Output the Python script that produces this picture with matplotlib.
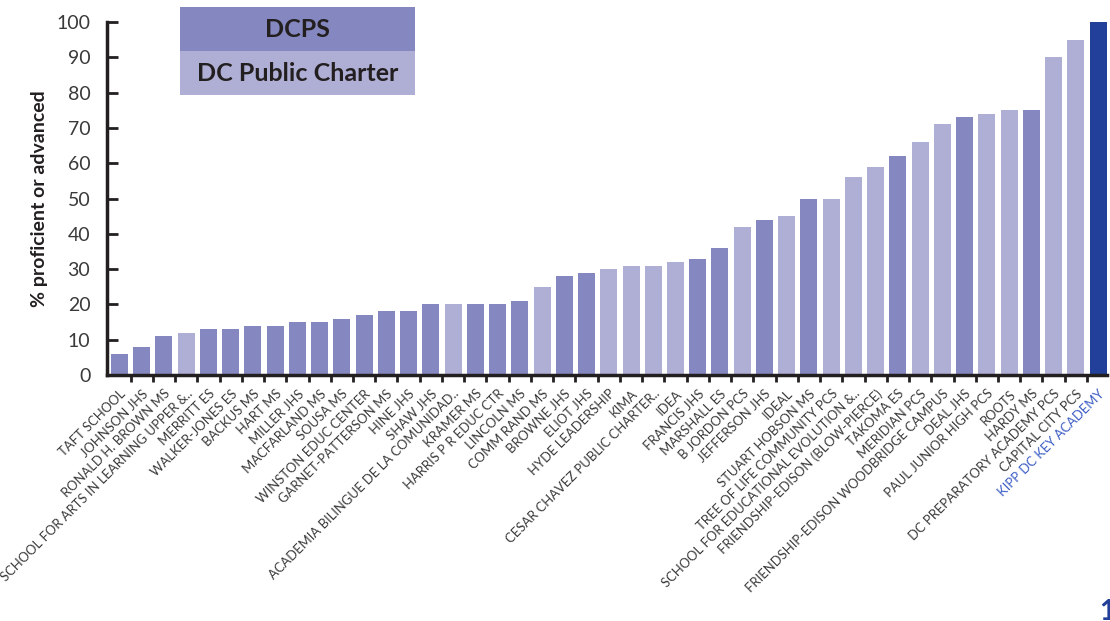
import matplotlib
matplotlib.use('Agg')
import matplotlib.pyplot as plt
import matplotlib.patches as patches
import matplotlib.transforms as mtransforms

plt.rcParams['font.family'] = ['Lato', 'DejaVu Sans']

schools = [
    'TAFT SCHOOL', 'JOHNSON JHS', 'RONALD H. BROWN MS',
    'SCHOOL FOR ARTS IN LEARNING UPPER &..', 'MERRITT ES', 'WALKER-JONES ES',
    'BACKUS MS', 'HART MS', 'MILLER JHS', 'MACFARLAND MS', 'SOUSA MS',
    'WINSTON EDUC CENTER', 'GARNET-PATTERSON MS', 'HINE JHS', 'SHAW JHS',
    'ACADEMIA BILINGUE DE LA COMUNIDAD..', 'KRAMER MS', 'HARRIS P R EDUC CTR',
    'LINCOLN MS', 'COMM RAND MS', 'BROWNE JHS', 'ELIOT JHS', 'HYDE LEADERSHIP',
    'KIMA', 'CESAR CHAVEZ PUBLIC CHARTER..', 'IDEA', 'FRANCIS JHS',
    'MARSHALL ES', 'B JORDON PCS', 'JEFFERSON JHS', 'IDEAL',
    'STUART HOBSON MS', 'TREE OF LIFE COMMUNITY PCS',
    'SCHOOL FOR EDUCATIONAL EVOLUTION &..', 'FRIENDSHIP-EDISON (BLOW-PIERCE)',
    'TAKOMA ES', 'MERIDIAN PCS', 'FRIENDSHIP-EDISON WOODBRIDGE CAMPUS',
    'DEAL JHS', 'PAUL JUNIOR HIGH PCS', 'ROOTS', 'HARDY MS',
    'DC PREPARATORY ACADEMY PCS', 'CAPITAL CITY PCS', 'KIPP DC KEY ACADEMY',
]
pct = [6, 8, 11, 12, 13, 13, 14, 14, 15, 15, 16, 17, 18, 18, 20, 20, 20, 20,
       21, 25, 28, 29, 30, 31, 31, 32, 33, 36, 42, 44, 45, 50, 50, 56, 59, 62,
       66, 71, 73, 74, 75, 75, 90, 95, 100]
# D = DCPS, C = DC Public Charter, K = KIPP
sector = list('DDDCDDDDDDDDDDDCDDDCDDCCCCDDCDCDCCCDCCDCCDCCK')

colors = {'D': '#8588c0', 'C': '#afafd6', 'K': '#22409a'}
ink = '#231f20'

fig = plt.figure(figsize=(11.1, 6.21), dpi=100)
ax = fig.add_axes([107 / 1110, (621 - 375) / 621, 1000 / 1110, 353 / 621])

x = list(range(len(schools)))
ax.bar(x, pct, width=0.765, color=[colors[s] for s in sector], zorder=2)

ax.set_xlim(-0.56, 44.4)
ax.set_ylim(0, 100)
ax.set_yticks(range(0, 101, 10))
ax.set_xticks(x)
ax.set_xticklabels(schools, rotation=45, ha='right', rotation_mode='anchor',
                   fontsize=9.4, color='#3a3a3a')
ax.get_xticklabels()[-1].set_color('#3b5cc4')
# nudge the slanted labels a little to the right, like the original
shift = mtransforms.ScaledTranslation(4 / 100, 0, fig.dpi_scale_trans)
for t in ax.get_xticklabels():
    t.set_transform(t.get_transform() + shift)
ax.set_xticks([i - 0.5 for i in range(1, len(schools))], minor=True)
ax.tick_params(axis='x', which='major', length=0, pad=9)
ax.tick_params(axis='x', which='minor', length=5, width=2, color=ink, direction='out')
ax.tick_params(axis='y', length=8, width=2, color=ink, direction='in',
               pad=12, labelsize=14, labelcolor='#3a3a3a')

for side in ['top', 'right']:
    ax.spines[side].set_visible(False)
for side in ['left', 'bottom']:
    ax.spines[side].set_linewidth(2.5)
    ax.spines[side].set_color(ink)

ax.set_ylabel('% proficient or advanced', fontsize=14, fontweight='bold',
              color=ink, labelpad=6)

# legend boxes
legend_items = [('DCPS', colors['D'], 0.918), ('DC Public Charter', colors['C'], 0.793)]
for label, col, y0 in legend_items:
    ax.add_patch(patches.Rectangle((0.073, y0), 0.235, 0.1235, transform=ax.transAxes,
                                   facecolor=col, edgecolor='none', clip_on=False, zorder=5))
    ax.text(0.073 + 0.1175, y0 + 0.06, label, transform=ax.transAxes, ha='center',
            va='center', fontsize=18, fontweight='bold', color=ink, zorder=6)

# page number peeking in at the corner
fig.text(1099 / 1110, -4 / 621, '1', fontsize=20, fontweight='bold',
         color='#22409a', ha='left', va='bottom')

fig.savefig('out.png', dpi=100)
